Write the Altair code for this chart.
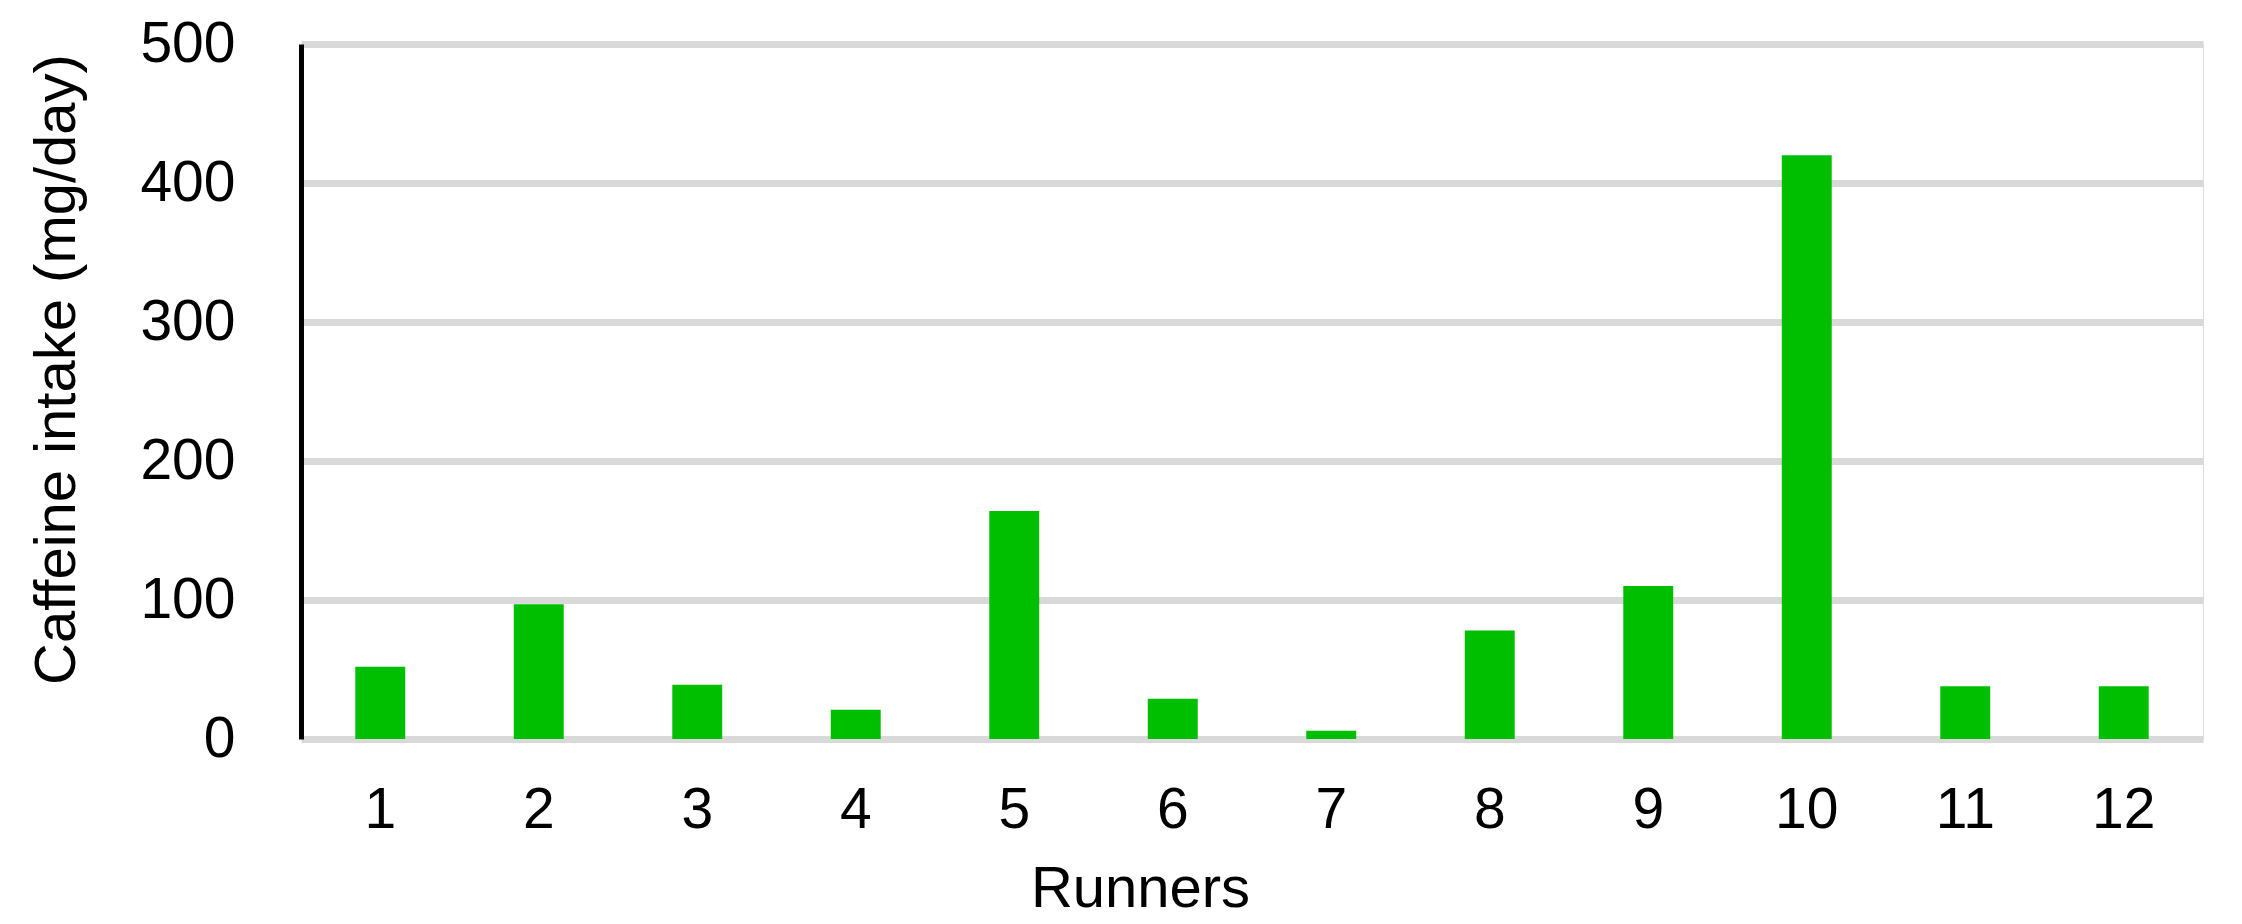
import altair as alt
import pandas as pd

runners = ["1", "2", "3", "4", "5", "6", "7", "8", "9", "10", "11", "12"]
caffeine = [52, 97, 39, 21, 164, 29, 6, 78, 110, 420, 38, 38]
y_ticks = [0, 100, 200, 300, 400, 500]

df = pd.DataFrame({"Runner": runners, "Caffeine": caffeine})

FONT = "Liberation Sans"

chart = alt.Chart(df).mark_bar(color="#00BF00").encode(
    x=alt.X(
        "Runner:N",
        sort=runners,
        scale=alt.Scale(paddingInner=0.685, paddingOuter=0.3425),
        axis=alt.Axis(
            title="Runners",
            labelAngle=0,
            labelFont=FONT,
            labelFontSize=57,
            labelColor="#000000",
            labelBaseline="alphabetic",
            labelPadding=88,
            ticks=False,
            tickSize=0,
            domain=False,
            grid=False,
            titleFont=FONT,
            titleFontSize=58,
            titleFontWeight="normal",
            titleColor="#000000",
            titleX=839,
            titleY=167,
            titleAlign="center",
            titleBaseline="alphabetic",
        ),
    ),
    y=alt.Y(
        "Caffeine:Q",
        scale=alt.Scale(domain=[0, 500], nice=False),
        axis=alt.Axis(
            title="Caffeine intake (mg/day)",
            values=y_ticks,
            labelFont=FONT,
            labelFontSize=57,
            labelColor="#000000",
            labelPadding=66,
            ticks=False,
            tickSize=0,
            domain=True,
            domainColor="#000000",
            domainWidth=5,
            grid=True,
            gridColor="#D9D9D9",
            gridWidth=7,
            titleFont=FONT,
            titleFontSize=58,
            titleFontWeight="normal",
            titleColor="#000000",
            titleAngle=270,
            titleX=-227,
            titleY=325,
            titleAlign="center",
            titleBaseline="alphabetic",
        ),
    ),
).properties(
    width=1902,
    height=695,
    autosize=alt.AutoSizeParams(type="none"),
    padding={"left": 293, "top": 36, "right": 30, "bottom": 182},
).configure_view(
    stroke=None
).configure(
    background="#FFFFFF"
)

chart.save("out.html", embed_options={"renderer": "svg", "actions": False})
